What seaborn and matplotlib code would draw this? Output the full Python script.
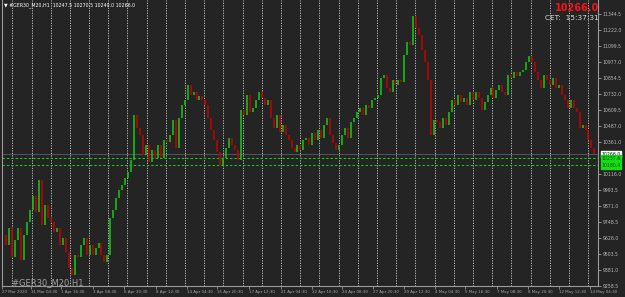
import numpy as np
import matplotlib
matplotlib.use('Agg')
import matplotlib.pyplot as plt
import matplotlib.transforms as mtransforms
import seaborn as sns

# H1 closes (one value every ~3 px)
closes = [
    9647, 9570, 9700, 9475, 9610, 9700, 9455, 9647, 9747, 9839,
    9946, 9824, 10069, 9724, 9877, 9778, 9747, 9670, 9700, 9570,
    9624, 9517, 9394, 9340, 9494, 9475, 9570, 9624, 9494, 9570,
    9494, 9548, 9586, 9494, 9440, 9494, 9778, 9839, 9931, 9992,
    10031, 10084, 10130, 10222, 10567, 10468, 10414, 10261, 10337, 10207,
    10299, 10238, 10337, 10238, 10376, 10360, 10414, 10529, 10314, 10545,
    10644, 10683, 10798, 10721, 10744, 10683, 10713, 10683, 10644, 10545,
    10453, 10376, 10284, 10184, 10238, 10314, 10391, 10337, 10299, 10222,
    10606, 10568, 10721, 10591, 10621, 10683, 10744, 10698, 10644, 10683,
    10545, 10468, 10568, 10437, 10491, 10414, 10376, 10314, 10284, 10337,
    10299, 10376, 10391, 10337, 10430, 10376, 10453, 10391, 10491, 10545,
    10414, 10353, 10299, 10337, 10414, 10468, 10391, 10514, 10545, 10591,
    10621, 10568, 10644, 10621, 10683, 10698, 10721, 10851, 10874, 10775,
    10744, 10836, 10798, 10836, 10821, 11028, 11127, 11104, 11327, 11235,
    11181, 11066, 10974, 10836, 10414, 10529, 10514, 10468, 10545, 10491,
    10591, 10683, 10644, 10721, 10667, 10698, 10644, 10744, 10683, 10744,
    10698, 10606, 10667, 10721, 10775, 10698, 10759, 10798, 10744, 10721,
    10874, 10851, 10897, 10867, 10897, 10913, 10974, 11020, 10974, 10897,
    10836, 10775, 10874, 10836, 10798, 10851, 10775, 10798, 10721, 10683,
    10621, 10683, 10621, 10591, 10468, 10491, 10453, 10376, 10314, 10266,
]

time_labels = ['27 Mar 2020', '31 Mar 04:30', '1 Apr 16:30', '3 Apr 08:30',
               '6 Apr 20:30', '8 Apr 12:30', '14 Apr 04:30', '15 Apr 20:30',
               '17 Apr 12:30', '21 Apr 04:30', '22 Apr 16:30', '24 Apr 08:30',
               '27 Apr 20:30', '29 Apr 12:30', '4 May 04:30', '5 May 16:30',
               '7 May 08:30', '8 May 20:30', '12 May 12:30', '14 May 04:30']
time_pos = [-0.5, 9.3, 19.4, 30.1, 40.6, 51.4, 61.8, 71.9, 82.7, 93.4,
            103.8, 113.9, 124.5, 134.9, 145.3, 155.4, 166.1, 176.7, 187.2, 197.5]

price_ticks = [11344.5, 11222.0, 11099.5, 10977.0, 10854.5, 10732.0, 10609.5,
               10487.0, 10361.0, 10116.0, 9993.5, 9871.0, 9748.5, 9626.0,
               9503.5, 9381.0, 9258.5]

last_price = 10266.0
level_lines = [10237.6, 10180.4]
header = '\u25bc #GER30_M20,H1  10247.5 10270.5 10240.0 10266.0'
clock = 'CET:  15:37:31'
watermark = '#GER30_M20 H1'

bg = '#242424'
fg = '#c4c4c4'
up_col = '#12c012'
down_col = '#c00000'

sns.set_theme(style='dark', rc={'axes.facecolor': bg, 'figure.facecolor': bg,
                                'axes.edgecolor': '#9a9a9a', 'text.color': fg,
                                'xtick.color': fg, 'ytick.color': fg})
plt.rcParams['font.family'] = ['DejaVu Sans']

fig = plt.figure(figsize=(6.25, 2.97), dpi=100)
ax = fig.add_axes([2 / 625, 11 / 297, 596 / 625, 286 / 297])

closes = np.array(closes, dtype=float)
opens = np.concatenate([[closes[0]], closes[:-1]])
x = np.arange(len(closes))
colors = [up_col if c >= o else down_col for o, c in zip(opens, closes)]
ax.vlines(x, np.minimum(opens, closes), np.maximum(opens, closes),
          colors=colors, linewidth=1.2)

ax.set_xlim(-0.5, 200.2)
ax.set_ylim(9256, 11450)

# vertical dashed grid
grid_x = 2.97 + 6.465 * np.arange(31)
for gx in grid_x:
    ax.axvline(gx, color='#cfcfcf', lw=0.6, ls=(0, (1.5, 1.5)), zorder=0)

# price / level lines
ax.axhline(last_price, color='#4d5959', lw=0.7, zorder=1)
for lv in level_lines:
    ax.axhline(lv, color='#10d810', lw=0.7, ls=(0, (2.5, 2)), zorder=1)

ax.set_xticks(time_pos)
ax.set_xticklabels(time_labels)
for lbl in ax.get_xticklabels():
    lbl.set_ha('left')
ax.tick_params(axis='x', labelsize=2.9, length=2, width=0.5, pad=1.2,
               colors='#a8a8a8', bottom=True)

ax.yaxis.tick_right()
ax.set_yticks(price_ticks)
ax.set_yticklabels([f'{p:.1f}' for p in price_ticks])
ax.tick_params(axis='y', labelsize=3.3, length=2, width=0.5, pad=1.2,
               colors='#b8b8b8', right=True)

for side in ['left', 'right', 'bottom']:
    ax.spines[side].set_visible(True)
    ax.spines[side].set_color('#9a9a9a')
    ax.spines[side].set_linewidth(0.8)
ax.spines['top'].set_visible(False)
ax.grid(False)

trans = mtransforms.blended_transform_factory(ax.transAxes, ax.transData)
ax.text(1.006, last_price, f'{last_price:.1f}', transform=trans, fontsize=3.3,
        color='black', va='center', ha='left',
        bbox=dict(boxstyle='square,pad=0.12', fc='white', ec='white'))
for lv in level_lines:
    ax.text(1.006, lv, f'{lv:.1f}', transform=trans, fontsize=3.3,
            color='#104010', va='center', ha='left',
            bbox=dict(boxstyle='square,pad=0.12', fc='#10e010', ec='#10e010'))

fig.text(0.006, 0.984, header, fontsize=3.4, color='white', va='center', ha='left')
fig.text(0.958, 0.972, f'{last_price:.1f}', fontsize=7, fontweight='bold',
         color='#ff1010', va='center', ha='right')
fig.text(0.958, 0.94, clock, fontsize=5.3, color='#d8d8d8', va='center', ha='right')
fig.text(0.02, 0.05, watermark, fontsize=6, color='#a0a0a0', va='center', ha='left')

fig.savefig('out.png', dpi=100, facecolor=bg)
